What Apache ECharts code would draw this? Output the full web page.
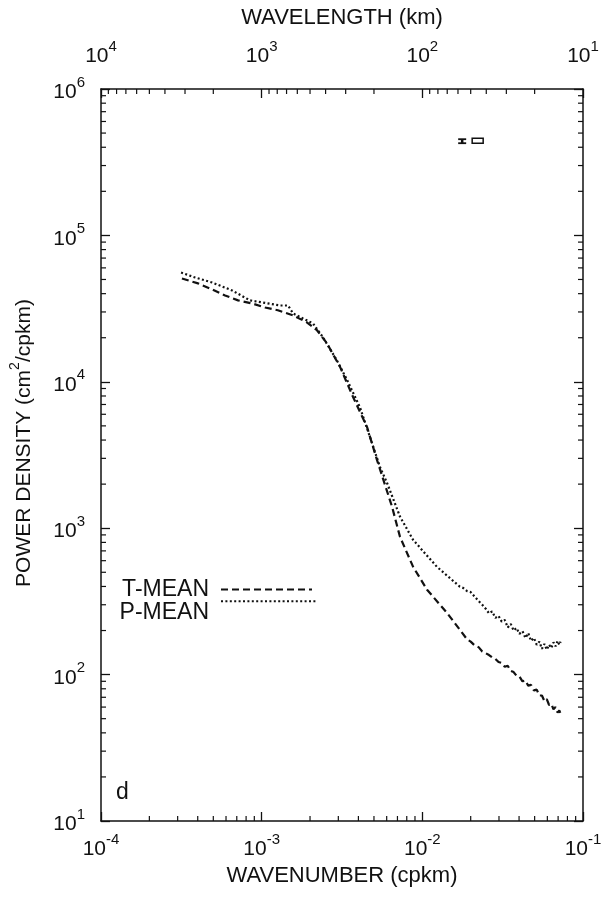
<!DOCTYPE html>
<html>
<head>
<meta charset="utf-8">
<script src="https://cdn.jsdelivr.net/npm/echarts@6/dist/echarts.min.js"></script>
<style>html,body{margin:0;padding:0;background:#fff}#chart{width:614px;height:897px}</style>
</head>
<body>
<div id="chart"></div>
<script>
// wavenumber (cpkm) / power density (cm^2/cpkm)
var tMeanK = [3.19e-4, 4.02e-4, 4.91e-4, 5.92e-4, 7.13e-4, 8.71e-4, 1.05e-3, 1.26e-3, 1.57e-3, 1.91e-3,
    2.21e-3, 2.55e-3, 3.08e-3, 3.7e-3, 4.53e-3, 5.22e-3, 6.48e-3, 7.26e-3, 8.75e-3, 1.07e-2, 1.42e-2, 1.9e-2,
    0.0200, 0.0212, 0.0224, 0.0236, 0.0248, 0.0260, 0.0272, 0.0285, 0.0298, 0.0312, 0.0326, 0.0340, 0.0355,
    0.0370, 0.0386, 0.0402, 0.0420, 0.0438, 0.0456, 0.0475, 0.0495, 0.0515, 0.0535, 0.0555, 0.0575, 0.0595,
    0.0615, 0.0635, 0.0655, 0.0675, 0.0695, 0.0712, 0.0725];
var tMeanP = [5.08e4, 4.7e4, 4.28e4, 3.89e4, 3.6e4, 3.43e4, 3.22e4, 3.08e4, 2.84e4, 2.55e4,
    2.25e4, 1.83e4, 1.26e4, 7.9e3, 4.9e3, 2.93e3, 1.4e3, 873, 546, 380, 265, 174,
    168, 158, 154, 144, 140, 136, 131, 128, 122, 120, 113, 115, 106,
    104, 98, 97, 90, 91, 84, 85, 78, 79, 72, 72, 66, 68,
    62, 63, 58, 60, 55, 57, 54];
var pMeanK = [3.15e-4, 3.85e-4, 4.91e-4, 6.54e-4, 8.45e-4, 1.0e-3, 1.3e-3, 1.46e-3, 1.57e-3, 2.09e-3,
    2.41e-3, 2.94e-3, 3.4e-3, 4.09e-3, 4.72e-3, 5.45e-3, 6.03e-3, 7.26e-3, 8.75e-3, 1.23e-2, 1.71e-2,
    0.0180, 0.0190, 0.0200, 0.0212, 0.0224, 0.0236, 0.0248, 0.0260, 0.0272, 0.0285, 0.0298, 0.0312, 0.0326,
    0.0340, 0.0355, 0.0370, 0.0386, 0.0402, 0.0420, 0.0438, 0.0456, 0.0475, 0.0495, 0.0515, 0.0535, 0.0555,
    0.0575, 0.0595, 0.0615, 0.0635, 0.0655, 0.0675, 0.0695, 0.0712, 0.0725];
var pMeanP = [5.58e4, 5.16e4, 4.77e4, 4.21e4, 3.6e4, 3.49e4, 3.32e4, 3.32e4, 2.93e4, 2.5e4,
    2.01e4, 1.4e4, 1.03e4, 6.7e3, 4.2e3, 2.62e3, 2.04e3, 1.2e3, 834, 546, 399,
    390, 372, 366, 340, 318, 300, 282, 262, 270, 244, 252, 230, 236,
    210, 222, 200, 208, 190, 198, 178, 192, 170, 178, 160, 168, 150,
    162, 148, 160, 152, 166, 156, 170, 160, 168];
var errorBar = [0.0177, 4.4e5];

var F = 'Liberation Sans, Arial, sans-serif';
var INK = '#111';
var minorMult = [2, 3, 4, 5, 6, 7, 8, 9];

function zip(a, b) {
    return a.map(function (v, i) { return [v, b[i]]; });
}
function minorTicks(lo, hi) {
    var out = [];
    for (var e = lo; e < hi; e++) {
        minorMult.forEach(function (m) { out.push([m * Math.pow(10, e), 0]); });
    }
    return out;
}
function powLabel(v) {
    return '{b|10}{s|' + Math.round(Math.log10(v)) + '}';
}
var richPow = {
    b: {fontSize: 21, fontFamily: F, color: INK, padding: [7, 0, 0, 0]},
    s: {fontSize: 15, fontFamily: F, color: INK, verticalAlign: 'top'}
};
var titleText = {fontSize: 22, fontFamily: F, color: INK};
var tickLine = {show: true, inside: true, length: 9, lineStyle: {color: INK, width: 1.3}};
var axisLine = {show: true, onZero: false, lineStyle: {color: INK, width: 1.5}};
var clear = 'rgba(0,0,0,0)';

function seg(x1, y1, x2, y2) {
    return {type: 'line', shape: {x1: x1, y1: y1, x2: x2, y2: y2},
        style: {stroke: INK, lineWidth: 1.2}};
}
function legendBox(name, right, top, width, pad) {
    return {
        data: [name], right: right, top: top, padding: 0, align: 'right', selectedMode: false,
        itemWidth: width, itemHeight: 18, itemStyle: {color: clear, borderColor: clear, borderWidth: 0},
        formatter: function (n) { return '{t|' + n + '}'; },
        textStyle: {rich: {t: {fontSize: 23, fontFamily: F, color: INK, padding: pad}}}
    };
}

var chart = echarts.init(document.getElementById('chart'));
chart.setOption({
    animation: false,
    backgroundColor: '#fff',
    grid: {left: 101, right: 31, top: 89, bottom: 76},
    legend: [
        legendBox('T-MEAN', 301, 578, 91, [0, 7, 0, 0]),
        legendBox('P-MEAN', 296, 594, 96, [22, 7, 0, 0])
    ],
    xAxis: [{
        type: 'log', min: 1e-4, max: 1e-1, position: 'bottom',
        name: 'WAVENUMBER (cpkm)', nameLocation: 'middle', nameGap: 42,
        nameTextStyle: titleText,
        axisLine: axisLine, axisTick: tickLine, splitLine: {show: false},
        axisLabel: {margin: 11, formatter: powLabel, rich: richPow}
    }, {
        type: 'log', min: 10, max: 1e4, inverse: true, position: 'top',
        name: 'WAVELENGTH (km)', nameLocation: 'middle', nameGap: 60,
        nameTextStyle: titleText,
        axisLine: axisLine, axisTick: tickLine, splitLine: {show: false},
        axisLabel: {margin: 22, formatter: powLabel, rich: richPow}
    }],
    yAxis: [{
        type: 'log', min: 10, max: 1e6, position: 'left',
        name: '{a|POWER DENSITY (cm}{t|2}{a|/cpkm)}', nameLocation: 'middle', nameGap: 66, nameRotate: 90,
        nameTextStyle: {padding: [0, 0, 0, 24], rich: {
            a: {fontSize: 21, fontFamily: F, color: INK, padding: [6, 0, 0, 0]},
            t: {fontSize: 14, fontFamily: F, color: INK, verticalAlign: 'top'}
        }},
        axisLine: axisLine, axisTick: tickLine, splitLine: {show: false},
        axisLabel: {margin: 16, formatter: powLabel, rich: richPow}
    }, {
        type: 'log', min: 10, max: 1e6, position: 'right',
        axisLine: axisLine, axisTick: tickLine, splitLine: {show: false},
        axisLabel: {show: false}
    }],
    graphic: [{type: 'text', left: 116, top: 781,
        style: {text: 'd', fontSize: 23, fontFamily: F, fill: INK}}],
    series: [{
        name: 'T-MEAN', type: 'line', data: zip(tMeanK, tMeanP),
        symbol: 'none', lineStyle: {color: INK, width: 2.2, type: [7, 4]}, itemStyle: {color: INK}
    }, {
        name: 'P-MEAN', type: 'line', data: zip(pMeanK, pMeanP),
        symbol: 'none', lineStyle: {color: INK, width: 2.2, type: [2, 2.4]}, itemStyle: {color: INK}
    }, {
        // minor ticks, wavenumber (bottom)
        type: 'custom', silent: true, clip: false, data: minorTicks(-4, -1),
        renderItem: function (params, api) {
            var p = api.coord([api.value(0), 10]);
            return seg(p[0], p[1], p[0], p[1] - 5);
        }
    }, {
        // minor ticks, wavelength (top)
        type: 'custom', silent: true, clip: false, xAxisIndex: 1, data: minorTicks(1, 4),
        renderItem: function (params, api) {
            var p = api.coord([api.value(0), 1e6]);
            return seg(p[0], p[1], p[0], p[1] + 5);
        }
    }, {
        // minor ticks, power density (left and right)
        type: 'custom', silent: true, clip: false,
        data: minorTicks(1, 6).map(function (d) { return [1e-4, d[0]]; }),
        renderItem: function (params, api) {
            var l = api.coord([1e-4, api.value(1)]);
            var r = api.coord([1e-1, api.value(1)]);
            return {type: 'group', children: [seg(l[0], l[1], l[0] + 5, l[1]), seg(r[0], r[1], r[0] - 5, r[1])]};
        }
    }, {
        // confidence bar in the upper right
        type: 'custom', silent: true, clip: false, data: [errorBar],
        renderItem: function (params, api) {
            var c = api.coord([api.value(0), api.value(1)]);
            var x = c[0], y = c[1];
            return {type: 'group', children: [
                {type: 'line', shape: {x1: x - 4, y1: y - 2, x2: x + 4, y2: y - 2}, style: {stroke: INK, lineWidth: 1.8}},
                {type: 'line', shape: {x1: x - 4, y1: y + 2, x2: x + 4, y2: y + 2}, style: {stroke: INK, lineWidth: 1.8}},
                {type: 'line', shape: {x1: x, y1: y - 2, x2: x, y2: y + 2}, style: {stroke: INK, lineWidth: 2.5}},
                {type: 'rect', shape: {x: x + 10, y: y - 3, width: 11, height: 5},
                    style: {stroke: INK, fill: '#fff', lineWidth: 1.5}}
            ]};
        }
    }]
});
</script>
</body>
</html>
